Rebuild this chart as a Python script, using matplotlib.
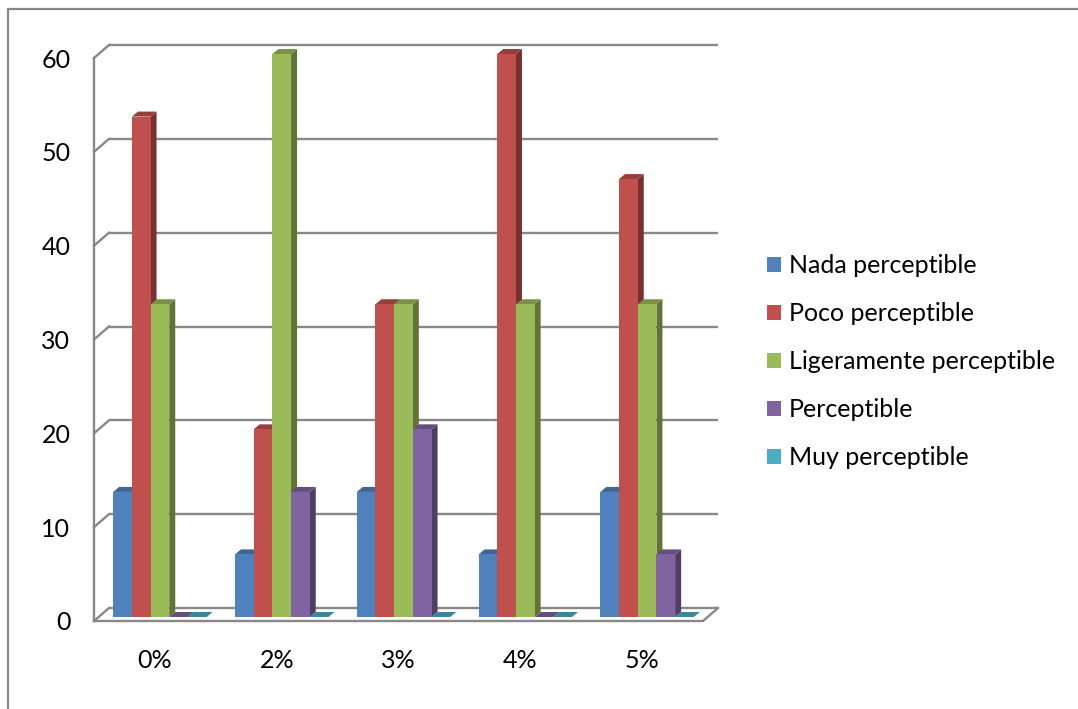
import matplotlib
matplotlib.use("Agg")
import matplotlib.pyplot as plt
from matplotlib.patches import Rectangle, Polygon, Patch
from matplotlib.lines import Line2D

# Data
categories = ["0%", "2%", "3%", "4%", "5%"]
series_names = ["Nada perceptible", "Poco perceptible", "Ligeramente perceptible",
                "Perceptible", "Muy perceptible"]
nada = [13.33, 6.67, 13.33, 6.67, 13.33]
poco = [53.33, 20.0, 33.33, 60.0, 46.67]
ligeramente = [33.33, 60.0, 33.33, 33.33, 33.33]
perceptible = [0.0, 13.33, 20.0, 0.0, 6.67]
muy = [0.0, 0.0, 0.0, 0.0, 0.0]
y_ticks = [0, 10, 20, 30, 40, 50, 60]

series = [nada, poco, ligeramente, perceptible, muy]
colors = ["#4F81BD", "#C0504D", "#9BBB59", "#8064A2", "#4BACC6"]


def shade(hex_color, f):
    r, g, b = matplotlib.colors.to_rgb(hex_color)
    return (r * f, g * f, b * f)


plt.rcParams["font.family"] = ["Lato", "DejaVu Sans"]
FS = 18

W, H = 1078, 709
fig = plt.figure(figsize=(W / 100, H / 100), dpi=100)
fig.patch.set_facecolor("white")

# front plane of the 3-D box, in figure pixels
left_px, right_px, bottom_px, top_px = 94, 703, 621, 58
ax = fig.add_axes([left_px / W, (H - bottom_px) / H,
                   (right_px - left_px) / W, (bottom_px - top_px) / H])
n = len(categories)
ax.set_xlim(-0.5, n - 0.5)
ax.set_ylim(0, 60)

# pixel -> data conversion
sx = (right_px - left_px) / n
sy = (bottom_px - top_px) / 60.0

# depth offsets (pixels)
WX, WY = 15 / sx, 13 / sy          # wall depth
BX, BY = 5 / sx, 4 / sy            # bars sit slightly inside the box
DX, DY = 6 / sx, 5 / sy            # bar thickness
grid_c = "#888888"
glw = 1.7

x0, x1 = -0.5, n - 0.5
for v in y_ticks:
    # back wall line
    ax.add_line(Line2D([x0 + WX, x1 + WX], [v + WY, v + WY], color=grid_c,
                       lw=glw, clip_on=False, zorder=1, solid_capstyle="butt"))
    # side wall diagonal
    ax.add_line(Line2D([x0, x0 + WX], [v, v + WY], color=grid_c,
                       lw=glw, clip_on=False, zorder=1))
# front-left vertical edge
ax.add_line(Line2D([x0, x0], [0, 60], color=grid_c, lw=glw, clip_on=False, zorder=1))
# floor front edge and right diagonal
ax.add_line(Line2D([x0, x1, x1 + WX], [0, 0, WY], color=grid_c, lw=glw,
                   clip_on=False, zorder=1))

# bars
bw = 18.7 / sx
z = 2
for i in range(n):
    gstart = i - 2.5 * bw + BX
    for j, vals in enumerate(series):
        v = vals[i]
        xl = gstart + j * bw
        xr = xl + bw
        c = colors[j]
        side = Polygon([(xr, BY), (xr + DX, BY + DY), (xr + DX, BY + v + DY), (xr, BY + v)],
                       closed=True, facecolor=shade(c, 0.62), edgecolor="none",
                       zorder=z, clip_on=False)
        top = Polygon([(xl, BY + v), (xr, BY + v), (xr + DX, BY + v + DY), (xl + DX, BY + v + DY)],
                      closed=True, facecolor=shade(c, 0.78), edgecolor="none",
                      zorder=z, clip_on=False)
        ax.add_patch(side)
        ax.add_patch(top)
        if v > 0:
            ax.add_patch(Rectangle((xl, BY), bw, v, facecolor=c, edgecolor="none",
                                   zorder=z + 0.5, clip_on=False))
        z += 1

# axes ticks and labels
for s in ax.spines.values():
    s.set_visible(False)
ax.set_facecolor("none")
ax.set_yticks(y_ticks)
ax.set_yticklabels([str(t) for t in y_ticks])
ax.set_xticks(range(n))
ax.set_xticklabels(categories)
ax.tick_params(axis="both", length=0, labelsize=FS, colors="black")
ax.tick_params(axis="y", pad=17)
ax.tick_params(axis="x", pad=20)

# legend
handles = [Patch(facecolor=c, edgecolor="none") for c in colors]
fig.legend(handles, series_names, loc="upper left",
           bbox_to_anchor=(767 / W, 1 - 254 / H), frameon=False,
           fontsize=FS, handlelength=0.56, handleheight=0.56,
           handletextpad=0.32, labelspacing=1.0, borderpad=0, borderaxespad=0)

# outer chart border (left and top)
fig.add_artist(Line2D([8 / W, 8 / W, 1.0], [0.0, 1 - 9 / H, 1 - 9 / H],
                      transform=fig.transFigure, color="#868686", lw=1.6))

fig.savefig("out.png", dpi=100)
